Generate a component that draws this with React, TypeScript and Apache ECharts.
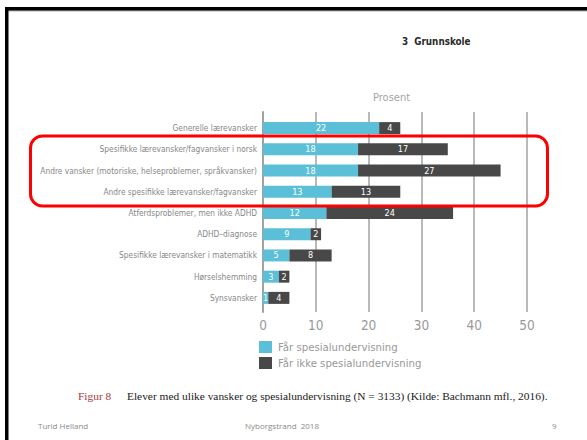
import React, { useEffect, useRef } from "react";
import * as echarts from "echarts";

// Kategorier (øverst først) og prosentverdier per gruppe
const categories = [
  "Generelle lærevansker",
  "Spesifikke lærevansker/fagvansker i norsk",
  "Andre vansker (motoriske, helseproblemer, språkvansker)",
  "Andre spesifikke lærevansker/fagvansker",
  "Atferdsproblemer, men ikke ADHD",
  "ADHD–diagnose",
  "Spesifikke lærevansker i matematikk",
  "Hørselshemming",
  "Synsvansker",
];
const farSpesial = [22, 18, 18, 13, 12, 9, 5, 3, 1];
const farIkkeSpesial = [4, 17, 27, 13, 24, 2, 8, 2, 4];
const seriesNames = ["Får spesialundervisning", "Får ikke spesialundervisning"];
const xTicks = { min: 0, max: 50, interval: 10 };

const narrow = '"DejaVu Sans Condensed", "Liberation Sans Narrow", sans-serif';
const LIGHT = "#5bbfd7";
const DARK = "#484848";

export default function App() {
  const ref = useRef<HTMLDivElement>(null);

  useEffect(() => {
    if (!ref.current) return;
    const chart = echarts.init(ref.current, undefined, { renderer: "svg" });
    chart.setOption({
      animation: false,
      backgroundColor: "#ffffff",
      grid: [
        { left: 263, right: 60, top: 112, bottom: 128, outerBoundsMode: "none", containLabel: false },
        { left: 263, right: 60, top: 117.5, bottom: 131.5, outerBoundsMode: "none", containLabel: false },
      ],
      xAxis: [
        {
          gridIndex: 0,
          type: "value",
          ...xTicks,
          axisLine: { show: false },
          axisTick: { show: false },
          splitLine: { show: true, lineStyle: { color: "#b9b9b9", width: 2 } },
          axisLabel: {
            color: "#999999",
            fontFamily: narrow,
            fontSize: 13.5,
            margin: 6,
          },
        },
        {
          gridIndex: 1,
          type: "value",
          ...xTicks,
          show: false,
        },
      ],
      yAxis: [
        {
          gridIndex: 0,
          type: "value",
          min: 0,
          max: 1,
          axisLine: { show: true, lineStyle: { color: "#a2a2a2", width: 2 } },
          axisTick: { show: false },
          axisLabel: { show: false },
          splitLine: { show: false },
        },
        {
          gridIndex: 1,
          type: "category",
          inverse: true,
          data: categories,
          axisLine: { show: false },
          axisTick: { show: false },
          axisLabel: {
            color: "#878787",
            fontFamily: narrow,
            fontSize: 8.3,
            margin: 6,
          },
        },
      ],
      legend: {
        orient: "vertical",
        left: 254,
        top: 336,
        itemWidth: 13,
        itemHeight: 12,
        itemGap: 4,
        icon: "rect",
        data: seriesNames,
        textStyle: {
          color: "#999999",
          fontFamily: narrow,
          fontSize: 11.3,
          padding: [0, 0, 0, 1],
        },
      },
      series: [
        {
          name: seriesNames[0],
          type: "bar",
          stack: "total",
          xAxisIndex: 1,
          yAxisIndex: 1,
          data: farSpesial,
          barWidth: 12,
          itemStyle: { color: LIGHT },
          label: {
            show: true,
            position: "inside",
            color: "#ffffff",
            fontFamily: narrow,
            fontSize: 9,
          },
        },
        {
          name: seriesNames[1],
          type: "bar",
          stack: "total",
          xAxisIndex: 1,
          yAxisIndex: 1,
          data: farIkkeSpesial,
          barWidth: 12,
          itemStyle: { color: DARK },
          label: {
            show: true,
            position: "inside",
            color: "#ffffff",
            fontFamily: narrow,
            fontSize: 9,
          },
        },
      ],
      graphic: [
        // Lysbildets ramme: svart kant oppe og til venstre
        { type: "rect", shape: { x: 8, y: 10, width: 579, height: 1.5 }, style: { fill: "#b5b5b5" } },
        { type: "rect", shape: { x: 5, y: 7, width: 582, height: 3.5 }, style: { fill: "#000000" } },
        { type: "rect", shape: { x: 5, y: 7, width: 3.5, height: 433 }, style: { fill: "#000000" } },
        {
          type: "text",
          left: 402,
          top: 36,
          style: {
            text: "3  Grunnskole",
            fill: "#2a2a2a",
            font: `bold 9.8px ${narrow}`,
          },
        },
        {
          type: "text",
          left: 373,
          top: 92,
          style: {
            text: "Prosent",
            fill: "#a5a5a5",
            font: `11px ${narrow}`,
          },
        },
        // Utheving av tre kategorier
        {
          type: "rect",
          shape: { x: 30.5, y: 136, width: 517, height: 70, r: 12 },
          style: { fill: "none", stroke: "#ff0000", lineWidth: 3 },
          z: 10,
        },
        {
          type: "text",
          left: 78,
          top: 390,
          style: {
            text: "Figur 8",
            fill: "#a23a3a",
            font: '11.4px "Liberation Serif", serif',
          },
        },
        {
          type: "text",
          left: 127,
          top: 390,
          style: {
            text: "Elever med ulike vansker og spesialundervisning (N = 3133) (Kilde: Bachmann mfl., 2016).",
            fill: "#1a1a1a",
            font: '11.4px "Liberation Serif", serif',
          },
        },
        {
          type: "text",
          left: 38,
          top: 421,
          style: { text: "Turid Helland", fill: "#8a8a8a", font: '8px "Open Sans", sans-serif' },
        },
        {
          type: "text",
          left: 245,
          top: 421,
          style: { text: "Nyborgstrand  2018", fill: "#8a8a8a", font: '8px "Open Sans", sans-serif' },
        },
        {
          type: "text",
          left: 552,
          top: 421,
          style: { text: "9", fill: "#8a8a8a", font: '8px "Open Sans", sans-serif' },
        },
      ],
    });
    return () => chart.dispose();
  }, []);

  return (
    <div
      ref={ref}
      style={{ position: "absolute", left: 0, top: 0, width: 587, height: 440 }}
    />
  );
}
